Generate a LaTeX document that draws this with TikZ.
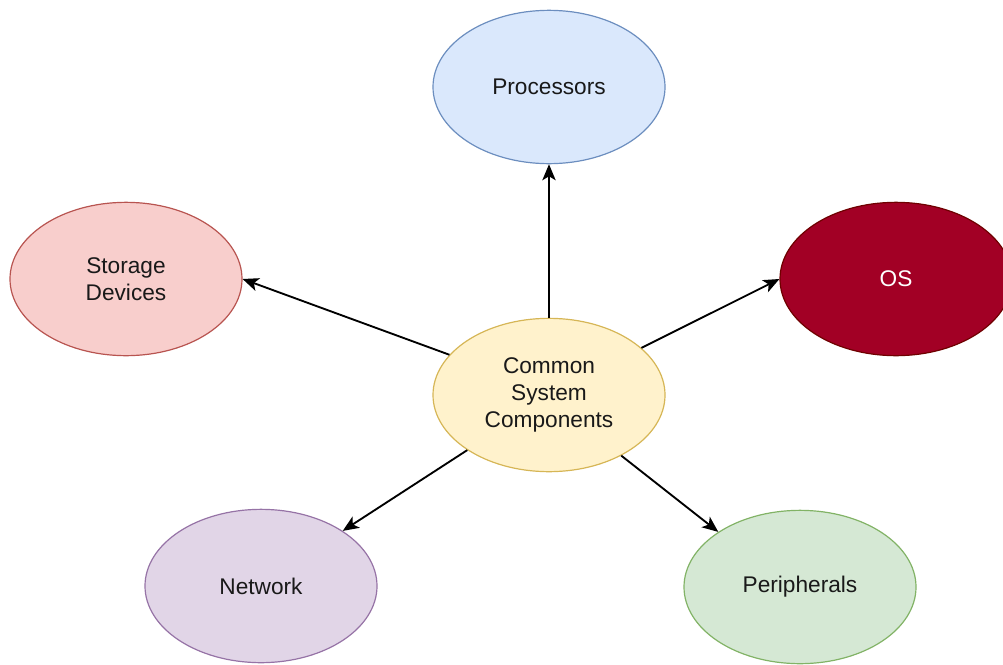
\documentclass[tikz,border=0pt]{standalone}
\usepackage{fontspec}
\setmainfont{Liberation Sans}
\usetikzlibrary{shapes.geometric,arrows.meta}
\definecolor{procfill}{HTML}{DAE8FC}\definecolor{procline}{HTML}{6C8EBF}
\definecolor{storfill}{HTML}{F8CECC}\definecolor{storline}{HTML}{B85450}
\definecolor{osfill}{HTML}{A20025}\definecolor{osline}{HTML}{6F0000}
\definecolor{netfill}{HTML}{E1D5E7}\definecolor{netline}{HTML}{9673A6}
\definecolor{perfill}{HTML}{D5E8D4}\definecolor{perline}{HTML}{82B366}
\definecolor{comfill}{HTML}{FFF2CC}\definecolor{comline}{HTML}{D6B656}
\begin{document}
\begin{tikzpicture}[x=0.75pt,y=-0.75pt,
  blob/.style={ellipse,draw,line width=0.9pt,inner sep=0pt,
    minimum width=174pt,minimum height=115pt,align=center,
    font=\fontsize{17}{20}\selectfont,text=black!90},
  link/.style={-{Stealth[length=12pt,width=10pt,inset=3pt]},line width=1.4pt,black}]
\useasboundingbox (0,0) rectangle (1003,664);
\node[blob,fill=procfill,draw=procline] (proc) at (549,87) {Processors};
\node[blob,fill=storfill,draw=storline] (stor) at (126,279) {Storage\\Devices};
\node[blob,fill=osfill,draw=osline,text=white] (os) at (896,279) {OS};
\node[blob,fill=comfill,draw=comline] (com) at (549,395) {Common\\System\\Components};
\node[blob,fill=netfill,draw=netline] (net) at (261,586) {Network};
\node[blob,fill=perfill,draw=perline] (per) at (800,587) {Peripherals};
\draw[link] (com.north) -- (proc.south);
\draw[link] (com.158) -- (stor.east);
\draw[link] (com.27) -- (os.west);
\draw[link] (com.214) -- (net.34);
\draw[link] (com.320) -- (per.146);
\end{tikzpicture}
\end{document}
